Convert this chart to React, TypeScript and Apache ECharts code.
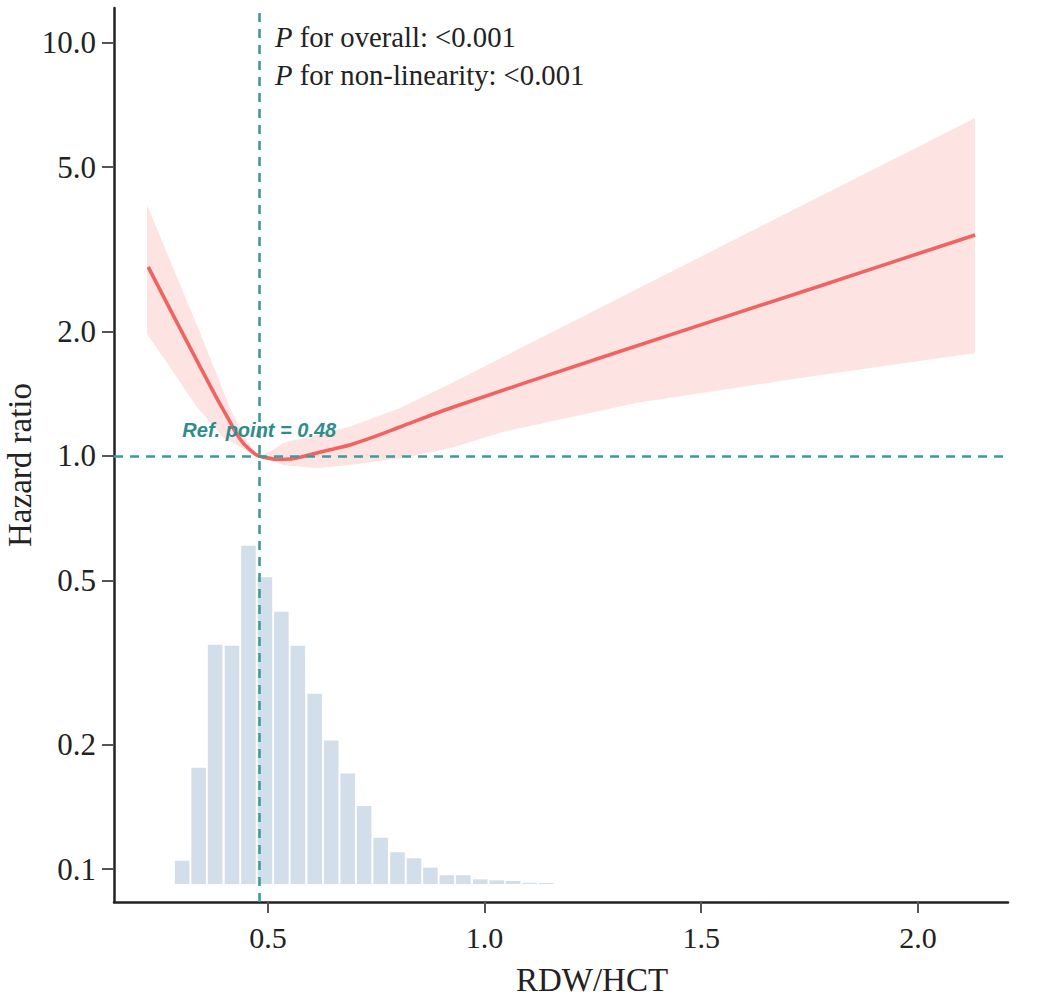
import React, { useEffect, useRef } from "react";
import * as echarts from "echarts";

// Axis ticks
const xTicks = [0.5, 1.0, 1.5, 2.0];
const yTickHR = [0.1, 0.2, 0.5, 1, 2, 5, 10];

// Axis extents (data units)
const X_MIN = 0.1447;
const X_MAX = 2.208;
const HR_MIN = 0.0833;
const HR_MAX = 12.13;

const REF_POINT = 0.48;

// RCS estimate (hazard ratio)
const lineX = [0.2236, 0.3109, 0.3778, 0.4124, 0.4263, 0.4424, 0.4586, 0.4701, 0.48, 0.4955, 0.5202, 0.5509, 0.574, 0.61, 0.643, 0.689, 0.736, 0.805, 0.92, 1.273, 1.774, 2.132];
const lineHR = [2.866, 1.909, 1.405, 1.209, 1.137, 1.075, 1.034, 1.011, 1.0, 0.99, 0.982, 0.983, 0.993, 1.015, 1.035, 1.063, 1.104, 1.175, 1.304, 1.736, 2.578, 3.426];

// 95% CI upper bound
const upperX = [0.2209, 0.3432, 0.4124, 0.447, 0.4655, 0.48, 0.505, 0.535, 0.689, 0.805, 0.92, 1.352, 2.132];
const upperHR = [4.049, 1.985, 1.306, 1.105, 1.04, 1.0, 1.024, 1.075, 1.177, 1.306, 1.494, 2.536, 6.574];

// 95% CI lower bound
const lowerX = [0.2209, 0.258, 0.336, 0.396, 0.447, 0.48, 0.535, 0.6125, 0.689, 0.805, 0.92, 1.042, 1.352, 1.728, 2.132];
const lowerHR = [1.973, 1.736, 1.314, 1.112, 1.034, 1.0, 0.951, 0.934, 0.951, 0.987, 1.044, 1.143, 1.344, 1.544, 1.775];

// Distribution histogram (bin centers, % of patients)
const HIST_BIN_WIDTH = 0.0382;
const histCenters = [0.302, 0.34, 0.378, 0.417, 0.455, 0.493, 0.531, 0.569, 0.608, 0.646, 0.684, 0.722, 0.76, 0.799, 0.837, 0.875, 0.913, 0.951, 0.99, 1.028, 1.066, 1.104, 1.142];
const histPercent = [0.95, 4.75, 9.78, 9.74, 13.83, 12.54, 11.13, 9.74, 7.78, 5.87, 4.52, 3.19, 1.89, 1.3, 1.05, 0.67, 0.36, 0.36, 0.19, 0.15, 0.12, 0.05, 0.04];

const SERIF = "'Liberation Serif', 'Times New Roman', serif";
const SANS = "'Liberation Sans', Arial, sans-serif";
const TEAL = "#3a9c9c";

const lg = (v: number) => Math.log10(v);

function buildOption(): any {
  const axisLabelStyle = { fontFamily: SERIF, fontSize: 30, color: "#222" };
  return {
    animation: false,
    backgroundColor: "#ffffff",
    grid: [
      { left: 114, right: 45, top: 8, bottom: 98, outerBoundsMode: "none", containLabel: false },
      { left: 114, right: 45, top: 517, bottom: 116, outerBoundsMode: "none", containLabel: false },
    ],
    xAxis: [
      {
        type: "value",
        gridIndex: 0,
        min: X_MIN,
        max: X_MAX,
        name: "RDW/HCT",
        nameLocation: "middle",
        nameGap: 61,
        nameMoveOverlap: false,
        nameTextStyle: { fontFamily: SERIF, fontSize: 33, color: "#222", padding: [0, 0, 0, 62] },
        axisLine: { onZero: false, lineStyle: { color: "#222", width: 2.5 } },
        axisTick: { customValues: xTicks, length: 11, lineStyle: { color: "#555", width: 2 } },
        axisLabel: { customValues: xTicks, margin: 20, formatter: (v: number) => v.toFixed(1), ...axisLabelStyle },
        splitLine: { show: false },
      },
      {
        type: "value",
        gridIndex: 1,
        min: X_MIN,
        max: X_MAX,
        show: false,
      },
    ],
    yAxis: [
      {
        type: "value",
        gridIndex: 0,
        min: lg(HR_MIN),
        max: lg(HR_MAX),
        name: "Hazard ratio",
        nameLocation: "middle",
        nameGap: 78,
        nameMoveOverlap: false,
        nameTextStyle: { fontFamily: SERIF, fontSize: 33, color: "#222", padding: [0, 20, 0, 0] },
        axisLine: { onZero: false, lineStyle: { color: "#222", width: 2.5 } },
        axisTick: { customValues: yTickHR.map(lg), length: 12, lineStyle: { color: "#555", width: 2 } },
        axisLabel: {
          customValues: yTickHR.map(lg),
          margin: 18,
          formatter: (v: number) => Math.pow(10, v).toFixed(1),
          ...axisLabelStyle,
          fontSize: 31,
        },
        splitLine: { show: false },
      },
      {
        type: "value",
        gridIndex: 1,
        min: 0,
        max: 15,
        show: false,
      },
    ],
    graphic: [
      {
        type: "text",
        left: 275,
        top: 18,
        style: {
          text: "{i|P} for overall: <0.001\n{i|P} for non-linearity: <0.001",
          fontFamily: SERIF,
          fontSize: 28.7,
          lineHeight: 38,
          fill: "#222",
          rich: {
            i: { fontStyle: "italic", fontFamily: SERIF, fontSize: 28.7, lineHeight: 38, color: "#222" },
          },
        },
      },
    ],
    series: [
      {
        type: "custom",
        name: "histogram",
        xAxisIndex: 1,
        yAxisIndex: 1,
        data: histCenters.map((c, i) => [c, histPercent[i]]),
        renderItem: (params: any, api: any) => {
          const c = api.value(0);
          const h = api.value(1);
          const p0 = api.coord([c - HIST_BIN_WIDTH / 2, h]);
          const p1 = api.coord([c + HIST_BIN_WIDTH / 2, 0]);
          return {
            type: "rect",
            shape: { x: p0[0] + 1, y: p0[1], width: p1[0] - p0[0] - 2, height: p1[1] - p0[1] },
            style: { fill: "#d3deeb" },
          };
        },
        silent: true,
      },
      {
        type: "custom",
        name: "ci",
        xAxisIndex: 0,
        yAxisIndex: 0,
        data: [[1, 0]],
        renderItem: (params: any, api: any) => {
          const pts: number[][] = [];
          for (let i = 0; i < upperX.length; i++) pts.push(api.coord([upperX[i], lg(upperHR[i])]));
          for (let i = lowerX.length - 1; i >= 0; i--) pts.push(api.coord([lowerX[i], lg(lowerHR[i])]));
          return { type: "polygon", shape: { points: pts }, style: { fill: "#fde3e1" } };
        },
        silent: true,
      },
      {
        type: "line",
        name: "HR",
        xAxisIndex: 0,
        yAxisIndex: 0,
        data: lineX.map((x, i) => [x, lg(lineHR[i])]),
        smooth: 0.3,
        showSymbol: false,
        lineStyle: { color: "#ef6360", width: 3.6 },
        silent: true,
        markLine: {
          silent: true,
          symbol: ["none", "none"],
          label: { show: false },
          lineStyle: { color: TEAL, width: 2.6, type: [9, 7] },
          data: [{ xAxis: REF_POINT }, { yAxis: 0 }],
        },
        markPoint: {
          silent: true,
          data: [
            {
              coord: [REF_POINT, lg(1.156)],
              symbol: "circle",
              symbolSize: 1,
              itemStyle: { color: "rgba(0,0,0,0)" },
              label: {
                show: true,
                position: "inside",
                formatter: "Ref. point = " + REF_POINT.toFixed(2),
                fontFamily: SANS,
                fontSize: 20,
                fontStyle: "italic",
                fontWeight: "bold",
                color: "#2f8c8c",
              },
            },
          ],
        },
      },
    ],
  };
}

export default function App() {
  const ref = useRef<HTMLDivElement>(null);
  useEffect(() => {
    document.body.style.margin = "0";
    if (!ref.current) return;
    const chart = echarts.init(ref.current, null, { renderer: "svg" });
    chart.setOption(buildOption());
    return () => chart.dispose();
  }, []);
  return <div ref={ref} style={{ width: 1053, height: 1000 }} />;
}
